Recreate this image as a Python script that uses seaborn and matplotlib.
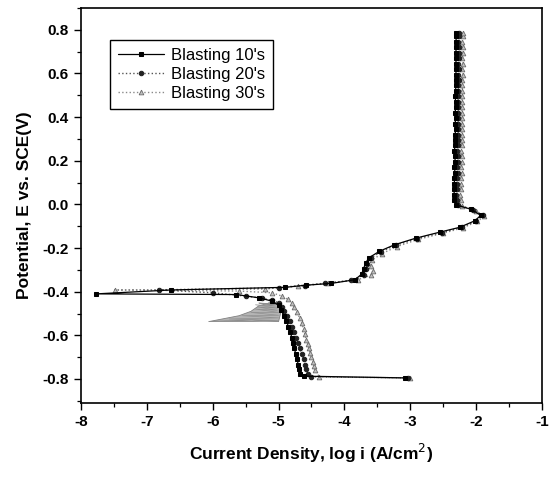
import matplotlib
matplotlib.use('Agg')
import matplotlib.pyplot as plt
import seaborn as sns
from matplotlib.ticker import MultipleLocator, FormatStrFormatter

sns.set_theme(style='ticks', rc={'axes.edgecolor': 'black', 'xtick.color': 'black',
                                 'ytick.color': 'black', 'text.color': 'black',
                                 'axes.labelcolor': 'black'})
plt.rcParams['font.family'] = ['Liberation Sans', 'DejaVu Sans']

LABELS = ["Blasting 10's", "Blasting 20's", "Blasting 30's"]
X_TICKS = [-8, -7, -6, -5, -4, -3, -2, -1]
Y_TICKS = [-0.8, -0.6, -0.4, -0.2, 0.0, 0.2, 0.4, 0.6, 0.8]

# shared potentials in the passive column (V)
E_PASSIVE = [0.02, 0.045, 0.07, 0.095, 0.12, 0.145, 0.17, 0.195, 0.22, 0.245, 0.27, 0.295,
             0.32, 0.345, 0.37, 0.395, 0.42, 0.445, 0.47, 0.495, 0.52, 0.545, 0.57, 0.595,
             0.62, 0.645, 0.67, 0.695, 0.72, 0.745, 0.77, 0.785]

# ---- Blasting 10's ----
X10_CATH = [-3.08, -4.62, -4.67, -4.69, -4.70, -4.72, -4.74, -4.76, -4.78,
            -4.80, -4.82, -4.85, -4.88, -4.92, -4.96, -5.0, -5.1, -5.3, -5.64, -7.77]
E10_CATH = [-0.795, -0.787, -0.775, -0.755, -0.735, -0.71, -0.685,
            -0.66, -0.635, -0.61, -0.585, -0.56, -0.535, -0.51, -0.485, -0.462, -0.443,
            -0.428, -0.413, -0.41]
X10_ANOD = [-6.63, -4.9, -4.58, -4.2, -3.84, -3.74, -3.71, -3.68, -3.63, -3.47, -3.24, -2.92,
            -2.55, -2.25, -2.02, -1.93, -2.08, -2.3]
E10_ANOD = [-0.392, -0.38, -0.37, -0.362, -0.345, -0.32, -0.295, -0.27, -0.245, -0.215,
            -0.185, -0.155, -0.127, -0.105, -0.075, -0.05, -0.022, -0.003]
X10_PASS = [-2.33, -2.33, -2.34, -2.33, -2.33, -2.32, -2.33, -2.32, -2.32, -2.33, -2.32, -2.32,
            -2.32, -2.31, -2.32, -2.31, -2.32, -2.31, -2.31, -2.32, -2.31, -2.31, -2.31, -2.31,
            -2.30, -2.31, -2.30, -2.31, -2.30, -2.30, -2.31, -2.30]

# ---- Blasting 20's ----
X20_CATH = [-3.03, -4.5, -4.56, -4.58, -4.60, -4.62, -4.65, -4.68, -4.71, -4.74,
            -4.77, -4.80, -4.83, -4.87, -4.91, -4.95, -5.0, -5.1, -5.25, -5.5, -6.0, -6.81]
E20_CATH = [-0.795, -0.79, -0.775, -0.755, -0.735, -0.71, -0.685, -0.66,
            -0.635, -0.61, -0.585, -0.56, -0.535, -0.51, -0.49, -0.468, -0.45, -0.44,
            -0.43, -0.42, -0.405, -0.392]
X20_ANOD = [-5.0, -4.6, -4.3, -3.9, -3.7, -3.68, -3.66, -3.6, -3.45, -3.22, -2.9, -2.52,
            -2.22, -2.0, -1.9, -2.05, -2.27]
E20_ANOD = [-0.382, -0.372, -0.362, -0.348, -0.322, -0.297, -0.272, -0.247, -0.217, -0.187,
            -0.157, -0.129, -0.105, -0.077, -0.05, -0.024, -0.004]
X20_PASS = [-2.29, -2.30, -2.29, -2.29, -2.29, -2.28, -2.29, -2.28, -2.28, -2.29, -2.28, -2.28,
            -2.27, -2.28, -2.27, -2.28, -2.27, -2.27, -2.27, -2.28, -2.27, -2.27, -2.26, -2.27,
            -2.26, -2.27, -2.26, -2.26, -2.26, -2.27, -2.26, -2.26]

# ---- Blasting 30's ----
X30_CATH = [-3.0, -4.38, -4.45, -4.46, -4.48, -4.50, -4.52, -4.54, -4.56,
            -4.58, -4.60, -4.62, -4.65, -4.68, -4.72, -4.76, -4.80, -4.86, -4.95, -5.1, -5.6,
            -7.49]
E30_CATH = [-0.795, -0.79, -0.76, -0.74, -0.72, -0.70, -0.68, -0.66,
            -0.64, -0.62, -0.595, -0.57, -0.545, -0.52, -0.495, -0.47, -0.45, -0.435, -0.42,
            -0.405, -0.397, -0.392]
X30_ANOD = [-5.2, -4.7, -4.25, -3.8, -3.6, -3.57, -3.6, -3.58, -3.43, -3.2, -2.88, -2.5,
            -2.2, -1.98, -1.88, -2.0, -2.22]
E30_ANOD = [-0.388, -0.372, -0.36, -0.345, -0.325, -0.305, -0.28, -0.255, -0.225, -0.193,
            -0.16, -0.132, -0.107, -0.078, -0.055, -0.03, -0.005]
X30_PASS = [-2.23, -2.24, -2.23, -2.23, -2.23, -2.22, -2.23, -2.22, -2.22, -2.23, -2.22, -2.22,
            -2.22, -2.21, -2.22, -2.21, -2.22, -2.21, -2.21, -2.22, -2.21, -2.21, -2.21, -2.20,
            -2.21, -2.20, -2.21, -2.20, -2.20, -2.21, -2.20, -2.20]

# noisy oscillation region near the corrosion potential (outline + scribble)
X_WEDGE = [-6.06, -5.6, -5.42, -5.3, -5.15, -5.0, -4.97, -5.0, -5.4]
E_WEDGE = [-0.537, -0.51, -0.49, -0.465, -0.452, -0.455, -0.5, -0.537, -0.53]
X_NOISE = [-5.0, -6.06, -5.0, -5.75, -5.0, -5.55, -5.0, -5.42, -5.0, -5.35, -5.02, -5.32,
           -5.02, -5.35, -5.05, -5.22, -5.0, -5.3, -5.08, -5.15, -5.0]
E_NOISE = [-0.537, -0.537, -0.532, -0.525, -0.52, -0.51, -0.508, -0.495, -0.495, -0.48,
           -0.485, -0.47, -0.475, -0.46, -0.466, -0.456, -0.46, -0.452, -0.455, -0.448, -0.45]

SERIES = [
    (X10_CATH + X10_ANOD + X10_PASS, E10_CATH + E10_ANOD + E_PASSIVE,
     dict(color='black', linestyle='-', marker='s', markersize=3.2, markerfacecolor='black',
          markeredgecolor='black', linewidth=0.9, zorder=5)),
    (X20_CATH + X20_ANOD + X20_PASS, E20_CATH + E20_ANOD + E_PASSIVE,
     dict(color='#555555', linestyle=':', marker='o', markersize=3.2, markerfacecolor='#222222',
          markeredgecolor='#222222', linewidth=1.0, zorder=4)),
    (X30_CATH + X30_ANOD + X30_PASS, E30_CATH + E30_ANOD + E_PASSIVE,
     dict(color='#8a8a8a', linestyle=':', marker='^', markersize=3.4, markerfacecolor='#c0c0c0',
          markeredgecolor='#6a6a6a', markeredgewidth=0.6, linewidth=1.0, zorder=3)),
]

fig = plt.figure(figsize=(5.51, 4.78), dpi=100)
ax = fig.add_axes([81 / 551, 75 / 478, 461 / 551, 395 / 478])

ax.fill(X_WEDGE, E_WEDGE, facecolor='#b4b4b4', edgecolor='#808080', linewidth=0.6, zorder=1)
sns.lineplot(x=X_NOISE, y=E_NOISE, sort=False, estimator=None, ax=ax, color='#909090',
             linewidth=0.5, zorder=2, legend=False)

for (xs, ys, st), lab in zip(SERIES, LABELS):
    sns.lineplot(x=xs, y=ys, sort=False, estimator=None, ax=ax, label=lab, **st)

ax.set_xlim(-8, -1)
ax.set_ylim(-0.91, 0.90)
ax.set_xticks(X_TICKS)
ax.set_yticks(Y_TICKS)
ax.xaxis.set_minor_locator(MultipleLocator(0.5))
ax.yaxis.set_minor_locator(MultipleLocator(0.1))
ax.yaxis.set_major_formatter(FormatStrFormatter('%.1f'))
ax.xaxis.set_major_formatter(FormatStrFormatter('%d'))
ax.tick_params(which='major', direction='out', length=5, width=1.0, labelsize=11, pad=4)
ax.tick_params(which='minor', direction='out', length=3, width=0.9)
for lbl in ax.get_xticklabels() + ax.get_yticklabels():
    lbl.set_fontweight('bold')
for sp in ax.spines.values():
    sp.set_linewidth(1.2)
    sp.set_color('black')

ax.set_xlabel('Current Density, log i (A/cm$^2$)', fontsize=12.5, fontweight='bold', labelpad=9)
ax.set_ylabel('Potential, E vs. SCE(V)', fontsize=12.5, fontweight='bold', labelpad=7)

leg = ax.legend(loc='upper left', bbox_to_anchor=(0.063, 0.918), frameon=True, fancybox=False,
                edgecolor='black', framealpha=1, fontsize=12, handlelength=2.8,
                borderpad=0.45, labelspacing=0.25, handletextpad=0.4, borderaxespad=0)
leg.get_frame().set_linewidth(1.0)

fig.savefig('out.png', dpi=100)
